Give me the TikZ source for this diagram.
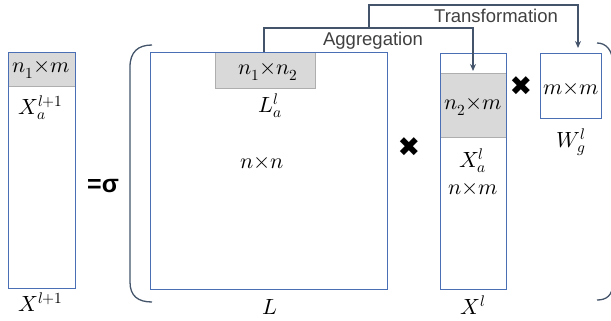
\documentclass[tikz,border=0pt]{standalone}
\usepackage{unicode-math}
\setmathfont{Latin Modern Math}
\usetikzlibrary{arrows.meta}
\newfontfamily\sansf{Liberation Sans}
\newfontfamily\symf{DejaVu Sans}
\definecolor{boxblue}{HTML}{4A6FB5}
\definecolor{slate}{HTML}{44546A}
\definecolor{cellgray}{HTML}{D9D9D9}
\tikzset{
  mat/.style={draw=boxblue, line width=1.4pt, inner sep=0pt, anchor=north west},
  cell/.style={fill=cellgray, draw=cellgray!80!black, line width=0.4pt, inner sep=0pt, anchor=north west},
  lbl/.style={inner sep=0pt, font=\fontsize{22}{24}\selectfont},
  conn/.style={draw=slate, line width=1.6pt},
  arr/.style={conn, -{Stealth[length=7pt,width=6pt]}},
  ctext/.style={inner sep=0pt, text=black!75, font=\sansf\fontsize{18.5}{21}\selectfont},
  times/.style={inner sep=0pt, font=\symf\fontsize{27}{27}\selectfont}
}
\begin{document}
\begin{tikzpicture}[x=1pt,y=-1pt]
\useasboundingbox (0,0) rectangle (611,321);
% gray cells
\node[cell, minimum width=67pt, minimum height=34pt] (c1) at (8,52) {};
\node[cell, minimum width=100pt, minimum height=36pt] (c2) at (215,52) {};
\node[cell, minimum width=66pt, minimum height=64pt] (c3) at (440,73) {};
% matrices
\node[mat, minimum width=67pt, minimum height=236pt] (X1) at (8,52) {};
\node[mat, minimum width=237pt, minimum height=237pt] (L) at (150,52) {};
\node[mat, minimum width=66pt, minimum height=236pt] (X) at (440,53) {};
\node[mat, minimum width=61pt, minimum height=65pt] (W) at (540,53) {};
% labels
\node[lbl] (t1) at (41,70) {$n_1{\times}m$};
\node[lbl] (t2) at (41,108) {$X_a^{l+1}$};
\node[lbl] (t3) at (41,302) {$X^{l+1}$};
\node[lbl] (t4) at (268,72) {$n_1{\times}n_2$};
\node[lbl] (t5) at (270,106) {$L_a^{l}$};
\node[lbl] (t6) at (262,163) {$n{\times}n$};
\node[lbl] (t7) at (270,307) {$L$};
\node[lbl] (t8) at (473,107) {$n_2{\times}m$};
\node[lbl] (t9) at (473,161) {$X_a^{l}$};
\node[lbl] (t10) at (473,189) {$n{\times}m$};
\node[lbl] (t11) at (473,305) {$X^{l}$};
\node[lbl] (t12) at (571,89) {$m{\times}m$};
\node[lbl] (t13) at (571,142) {$W_g^{l}$};
% operators
\node[inner sep=0pt, font=\sansf\bfseries\fontsize{25}{25}\selectfont] (eq) at (103,186) {=σ};
\node[times] (m1) at (409,147) {✖};
\node[times] (m2) at (521,86) {✖};
% brackets
\draw[conn, line width=1.3pt] (152,45) .. controls (138,45) and (130,52) .. (130,67) -- (130,282) .. controls (130,296) and (138,302) .. (152,302);
\draw[conn, line width=1.3pt] (597,43) .. controls (606,43) and (613,50) .. (613,65) -- (613,282) .. controls (613,296) and (606,300) .. (597,300);
% connectors
\coordinate (a0) at (264,52);
\coordinate (a1) at (264,28);
\coordinate (a2) at (473,28);
\coordinate (a3) at (473,71);
\draw[arr] (a0) -- (a1) -- (a2) -- (a3);
\coordinate (b0) at (369,28);
\coordinate (b1) at (369,5);
\coordinate (b2) at (578,5);
\coordinate (b3) at (578,48);
\draw[arr] (b0) -- (b1) -- (b2) -- (b3);
\node[ctext] (agg) at (373,41) {Aggregation};
\node[ctext] (tra) at (496,16) {Transformation};
\end{tikzpicture}
\end{document}
